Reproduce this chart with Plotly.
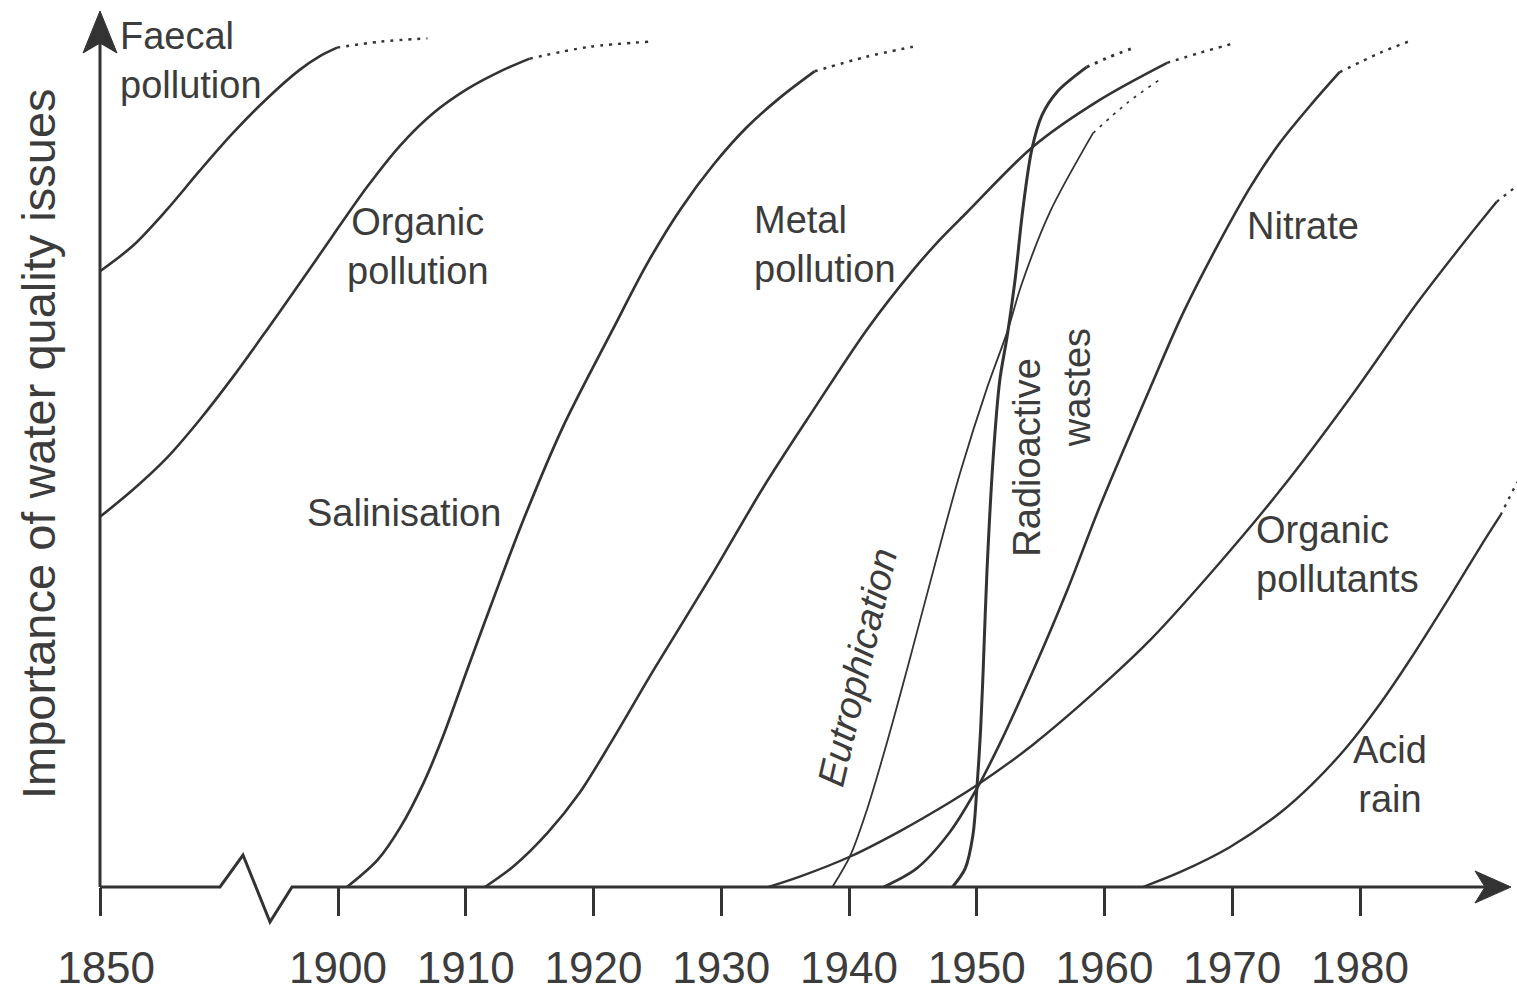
import plotly.graph_objects as go

# ------------------------------------------------------------------
# Data (real years, importance on a 0-100 scale read off the picture)
# ------------------------------------------------------------------
tick_years = [1850, 1900, 1910, 1920, 1930, 1940, 1950, 1960, 1970, 1980]
tick_labels = ["\u00a01850", "1900", "1910", "1920", "1930", "1940", "1950", "1960", "1970", "1980"]

faecal_years = [1850.0, 1856.9, 1864.1, 1871.0, 1877.9, 1885.1, 1892.0, 1896.2, 1899.8]
faecal_vals = [72.7, 75.7, 80.0, 84.6, 89.0, 93.1, 96.5, 98.1, 99.1]
faecal_trend_years = [1899.8, 1903.3, 1907.0]
faecal_trend_vals = [99.1, 99.8, 100.2]

organic_years = [1850.0, 1856.9, 1864.1, 1871.0, 1877.9, 1885.1, 1892.0, 1898.9,
                 1902.3, 1904.9, 1907.4, 1910.1, 1912.7, 1915.0]
organic_vals = [43.7, 46.9, 50.7, 55.2, 60.2, 65.8, 71.3, 76.9,
                82.7, 87.6, 91.3, 94.2, 96.3, 97.8]
organic_trend_years = [1915.0, 1919.7, 1924.4]
organic_trend_vals = [97.8, 99.2, 99.8]

salin_years = [1900.7, 1903.1, 1904.9, 1906.7, 1908.2, 1910.1, 1912.7, 1914.5,
               1917.6, 1921.5, 1924.2, 1926.8, 1929.4, 1932.0, 1934.6, 1937.3]
salin_vals = [0.0, 3.2, 7.1, 12.3, 17.7, 25.6, 36.2, 43.3,
              54.3, 65.8, 73.6, 80.0, 85.3, 89.7, 93.2, 96.3]
salin_trend_years = [1937.3, 1941.3, 1945.0]
salin_trend_vals = [96.3, 98.0, 99.2]

metal_years = [1911.5, 1913.7, 1916.4, 1918.9, 1921.5, 1924.7, 1929.4, 1933.3,
               1937.2, 1941.4, 1945.0, 1947.1, 1949.2, 1954.4, 1959.6, 1964.9]
metal_vals = [0.0, 2.4, 6.4, 11.1, 17.4, 25.6, 37.2, 47.2,
              56.3, 65.8, 72.8, 76.4, 79.6, 87.4, 92.9, 97.3]
metal_trend_years = [1964.9, 1967.5, 1970.1]
metal_trend_vals = [97.3, 98.5, 99.6]

eutro_years = [1938.7, 1940.1, 1941.4, 1943.0, 1944.6, 1946.8, 1948.7, 1950.8,
               1952.4, 1953.5, 1955.7, 1959.1]
eutro_vals = [0.0, 3.7, 9.1, 17.2, 26.0, 38.5, 48.9, 58.9,
              65.6, 71.1, 79.6, 89.0]
eutro_trend_years = [1959.1, 1961.8, 1964.3]
eutro_trend_vals = [89.0, 92.6, 95.3]

radio_years = [1948.1, 1949.1, 1949.7, 1950.0, 1950.3, 1950.5, 1950.8, 1951.3,
               1951.8, 1952.4, 1953.0, 1953.6, 1954.3, 1955.1, 1956.3, 1958.6]
radio_vals = [0.0, 2.2, 6.1, 11.4, 18.5, 25.5, 37.3, 51.0,
              59.8, 65.2, 71.7, 79.9, 87.0, 91.1, 93.9, 96.8]
radio_trend_years = [1958.6, 1960.4, 1962.5]
radio_trend_vals = [96.8, 98.0, 99.2]

nitrate_years = [1942.7, 1945.3, 1947.9, 1950.0, 1951.8, 1954.4, 1957.1, 1959.6,
                 1963.6, 1966.1, 1968.8, 1971.4, 1973.7, 1976.3, 1978.4]
nitrate_vals = [0.0, 2.2, 6.5, 11.6, 16.9, 25.5, 35.1, 44.8,
                59.0, 67.6, 75.6, 82.6, 87.8, 92.6, 96.2]
nitrate_trend_years = [1978.4, 1981.6, 1984.1]
nitrate_trend_vals = [96.2, 98.5, 100.0]

orgpol_years = [1933.7, 1936.2, 1940.1, 1944.0, 1947.9, 1950.0, 1954.4, 1959.6,
                1963.6, 1968.8, 1974.0, 1979.2, 1984.5, 1988.4, 1990.7]
orgpol_vals = [0.0, 1.25, 3.6, 6.6, 10.0, 12.0, 16.8, 23.5,
               29.2, 37.9, 47.3, 57.7, 69.0, 76.6, 80.9]
orgpol_trend_years = [1990.7, 1992.3]
orgpol_trend_vals = [80.9, 82.8]

acid_years = [1963.0, 1965.9, 1969.8, 1973.7, 1976.3, 1979.0, 1981.6, 1983.9,
              1987.0, 1989.6, 1991.0]
acid_vals = [0.0, 1.75, 4.7, 8.7, 12.2, 16.6, 21.7, 26.8, 34.2, 40.6, 43.9]
acid_trend_years = [1991.0, 1992.3]
acid_trend_vals = [43.9, 47.8]

# ------------------------------------------------------------------
# Broken time axis: 1850-1900 is compressed
# ------------------------------------------------------------------
BREAK_FACTOR = 0.3726


def to_axis(year):
    return year if year >= 1900 else 1900 - (1900 - year) * BREAK_FACTOR


LINE = "#333333"
TEXT = "#3c3c3c"
FONT = "Liberation Sans, Arial, Helvetica, sans-serif"

curves = [
    (faecal_years, faecal_vals, faecal_trend_years, faecal_trend_vals, 2.6),
    (organic_years, organic_vals, organic_trend_years, organic_trend_vals, 2.6),
    (salin_years, salin_vals, salin_trend_years, salin_trend_vals, 2.7),
    (metal_years, metal_vals, metal_trend_years, metal_trend_vals, 2.6),
    (eutro_years, eutro_vals, eutro_trend_years, eutro_trend_vals, 1.8),
    (radio_years, radio_vals, radio_trend_years, radio_trend_vals, 3.0),
    (nitrate_years, nitrate_vals, nitrate_trend_years, nitrate_trend_vals, 2.6),
    (orgpol_years, orgpol_vals, orgpol_trend_years, orgpol_trend_vals, 2.4),
    (acid_years, acid_vals, acid_trend_years, acid_trend_vals, 2.4),
]

fig = go.Figure()
for yrs, vals, tyrs, tvals, w in curves:
    fig.add_trace(go.Scatter(
        x=[to_axis(v) for v in yrs], y=vals, mode="lines",
        line=dict(color=LINE, width=w, shape="spline", smoothing=0.9),
        hoverinfo="skip"))
    fig.add_trace(go.Scatter(
        x=[to_axis(v) for v in tyrs], y=tvals, mode="lines",
        line=dict(color=LINE, width=w * 0.95, shape="spline", smoothing=0.9,
                  dash="3px,6px"),
        hoverinfo="skip"))

# ------------------------------------------------------------------
# Layout geometry (pixel mapping of the reference)
# ------------------------------------------------------------------
W, H = 1517, 996
PX_PER_YEAR = 12.775
PX_PER_UNIT = 8.47
X_1900_PX = 338
BASE_PX = 887
X0 = 1900 - X_1900_PX / PX_PER_YEAR
X1 = 1900 + (W - X_1900_PX) / PX_PER_YEAR
Y0 = -(H - BASE_PX) / PX_PER_UNIT
Y1 = BASE_PX / PX_PER_UNIT


def dx(px):
    return px / PX_PER_YEAR


def dy(px):
    return px / PX_PER_UNIT


x_origin = to_axis(tick_years[0])
shapes = []

# vertical axis + arrowhead
shapes.append(dict(type="line", xref="x", yref="y", x0=x_origin, x1=x_origin,
                   y0=0, y1=Y1 - dy(40), line=dict(color=LINE, width=3)))
tip_y = Y1 - dy(11)
shapes.append(dict(type="path", xref="x", yref="y",
                   path=(f"M{x_origin},{tip_y} L{x_origin - dx(17)},{tip_y - dy(42)} "
                         f"L{x_origin},{tip_y - dy(32)} L{x_origin + dx(17)},{tip_y - dy(42)} Z"),
                   fillcolor=LINE, line=dict(color=LINE, width=1)))

# horizontal axis with break symbol + arrowhead
bx = x_origin + dx(120)
tip_x = X1 - dx(6)
shapes.append(dict(type="path", xref="x", yref="y",
                   path=(f"M{x_origin},0 L{bx},0 L{bx + dx(23)},{dy(32)} "
                         f"L{bx + dx(50)},{-dy(35)} L{bx + dx(72)},0 L{tip_x - dx(20)},0"),
                   line=dict(color=LINE, width=3)))
shapes.append(dict(type="path", xref="x", yref="y",
                   path=(f"M{tip_x},0 L{tip_x - dx(36)},{dy(16)} L{tip_x - dx(26)},0 "
                         f"L{tip_x - dx(36)},{-dy(16)} Z"),
                   fillcolor=LINE, line=dict(color=LINE, width=1)))

# ------------------------------------------------------------------
# Labels
# ------------------------------------------------------------------
label_font = dict(family=FONT, size=38, color=TEXT)
annotations = [
    dict(text="Faecal<br>pollution", x=to_axis(1850) + dx(18), y=97.6,
         xanchor="left", align="left"),
    dict(text="Organic<br>pollution", x=1906.26, y=75.6, align="center"),
    dict(text="Metal<br>pollution", x=1932.4, y=75.9, xanchor="left", align="left"),
    dict(text="Salinisation", x=1905.17, y=44.2),
    dict(text="Nitrate", x=1975.54, y=78.0),
    dict(text="Organic<br>pollutants", x=1971.7, y=39.2, xanchor="left", align="left"),
    dict(text="Acid<br>rain", x=1982.35, y=13.3, align="center"),
    dict(text="<i>Eutrophication</i>", x=1940.63, y=25.9, textangle=-77),
    dict(text="Radioactive", x=1953.93, y=50.8, textangle=-90),
    dict(text="wastes", x=1957.85, y=58.9, textangle=-90),
]
for a in annotations:
    a.update(xref="x", yref="y", showarrow=False, font=label_font)
    a.setdefault("xanchor", "center")
    a.setdefault("yanchor", "middle")

annotations.append(dict(
    text="Importance of water quality issues", xref="x", yref="y",
    x=X0 + dx(38), y=dy(BASE_PX - 444), textangle=-90, showarrow=False,
    xanchor="center", yanchor="middle",
    font=dict(family=FONT, size=47, color=TEXT)))

fig.update_layout(
    width=W, height=H,
    margin=dict(l=0, r=0, t=0, b=0, autoexpand=False),
    paper_bgcolor="white", plot_bgcolor="white",
    showlegend=False,
    xaxis=dict(range=[X0, X1], showgrid=False, zeroline=False, showline=False,
               tickmode="array", tickvals=[to_axis(t) for t in tick_years],
               ticktext=tick_labels, ticks="outside", ticklen=28, tickwidth=3,
               tickcolor=LINE, tickfont=dict(family=FONT, size=44, color=TEXT),
               anchor="free", position=(H - BASE_PX) / H, ticklabelstandoff=14,
               automargin=False, fixedrange=True),
    yaxis=dict(range=[Y0, Y1], visible=False, fixedrange=True, automargin=False),
    shapes=shapes,
    annotations=annotations,
)

fig.write_html("out.html", config={"displayModeBar": False},
               post_script="document.body.style.margin='0';document.body.style.overflow='hidden';")
